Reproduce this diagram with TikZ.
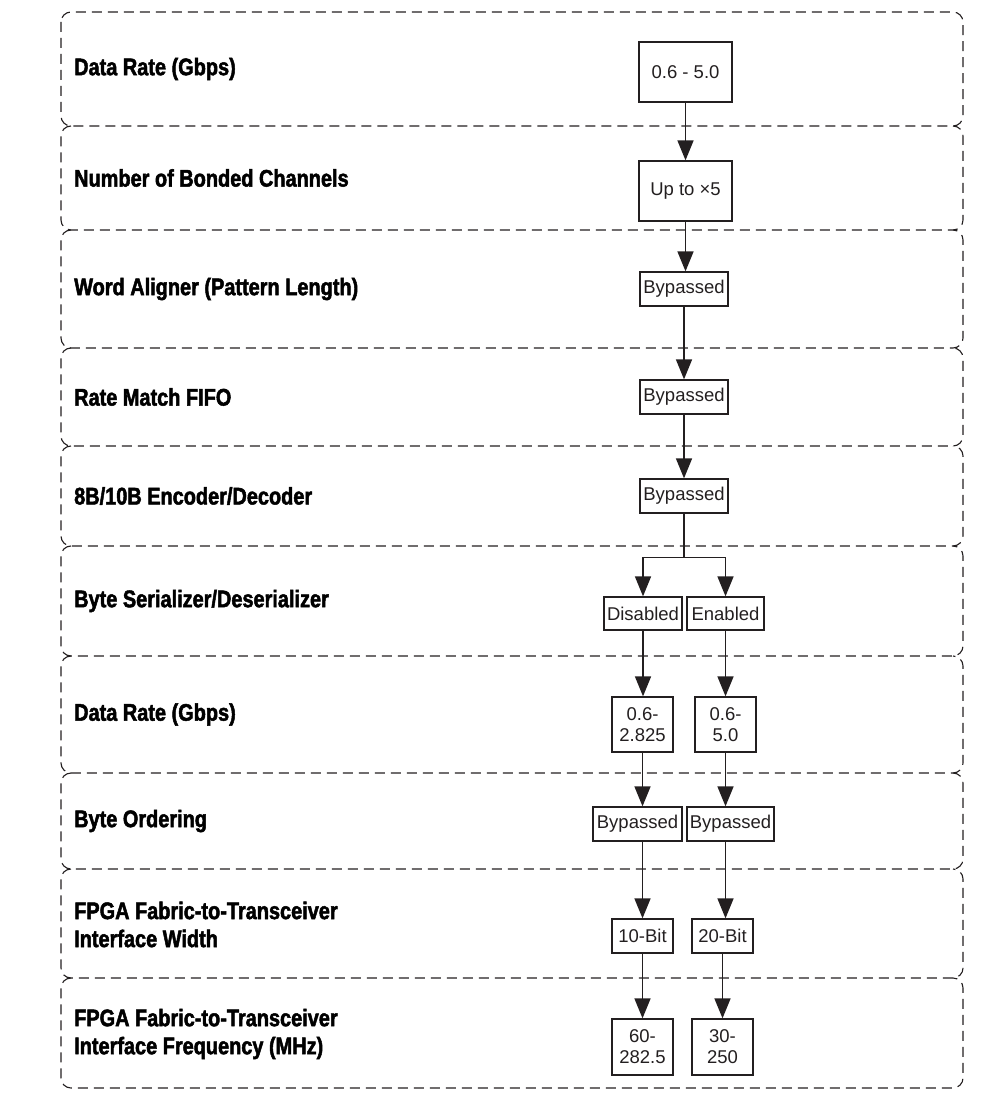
\documentclass[tikz,border=0pt]{standalone}
\usepackage{fontspec}
\setmainfont{Liberation Sans}
\newfontfamily\headfont{Liberation Sans}[FakeStretch=0.83,FakeBold=2]
\usetikzlibrary{arrows.meta}
\definecolor{ink}{HTML}{231F20}
\begin{document}
\begin{tikzpicture}[x=1pt,y=-1pt,
  band/.style={draw=ink, line width=1.1pt, dash pattern=on 10pt off 6pt, rounded corners=10pt},
  lbl/.style={anchor=west, inner sep=0pt, font=\headfont\bfseries\fontsize{24}{28}\selectfont, text=black, align=left},
  box/.style={draw=ink, line width=1.3pt, inner sep=0pt, font=\fontsize{18.5}{21}\selectfont, text=ink, align=center},
  arr/.style={draw=ink, line width=1.6pt, -{Triangle[length=20pt,width=16pt]}},
  wire/.style={draw=ink, line width=1.6pt}]
\useasboundingbox (0,0) rectangle (1001,1099);

% dashed stage bands
\draw[band] (61,12) rectangle (963,126);
\foreach \t/\b in {126/230, 230/348, 348/446, 446/546, 546/656, 656/773, 773/869, 869/978, 978/1088}
  \draw[band] (71,\t) -- (61,\t) -- (61,\b) -- (963,\b) -- (963,\t) -- (953,\t);

% stage labels
\node[lbl] (l1) at (74,69) {Data Rate (Gbps)};
\node[lbl] (l2) at (74,178) {Number of Bonded Channels};
\node[lbl] (l3) at (74,289) {Word Aligner (Pattern Length)};
\node[lbl] (l4) at (74,397) {Rate Match FIFO};
\node[lbl] (l5) at (74,496) {8B/10B Encoder/Decoder};
\node[lbl] (l6) at (74,601) {Byte Serializer/Deserializer};
\node[lbl] (l7) at (74,714.5) {Data Rate (Gbps)};
\node[lbl] (l8) at (74,821) {Byte Ordering};
\node[lbl] (l9) at (74,924.5) {FPGA Fabric-to-Transceiver\\Interface Width};
\node[lbl] (l10) at (74,1034) {FPGA Fabric-to-Transceiver\\Interface Frequency (MHz)};

% option boxes
\node[box, minimum width=93, minimum height=60] (rate) at (685.5,72) {0.6 - 5.0};
\node[box, minimum width=93, minimum height=60] (bond) at (685.5,191) {Up to ×5};
\node[box, minimum width=88, minimum height=34] (wa) at (684,289) {Bypassed};
\node[box, minimum width=88, minimum height=34] (rm) at (684,397) {Bypassed};
\node[box, minimum width=88, minimum height=34] (enc) at (684,496) {Bypassed};
\node[box, minimum width=78, minimum height=33] (dis) at (643,613.5) {Disabled};
\node[box, minimum width=77, minimum height=33] (en) at (725.5,613.5) {Enabled};
\node[box, minimum width=61, minimum height=55] (rl) at (642.5,724.5) {0.6-\\2.825};
\node[box, minimum width=61, minimum height=55] (rr) at (725.5,724.5) {0.6-\\5.0};
\node[box, minimum width=89, minimum height=34] (ol) at (637.5,824) {Bypassed};
\node[box, minimum width=87, minimum height=34] (or) at (730.5,824) {Bypassed};
\node[box, minimum width=61, minimum height=34] (wl) at (642.5,936) {10-Bit};
\node[box, minimum width=61, minimum height=34] (wr) at (722.5,936) {20-Bit};
\node[box, minimum width=61, minimum height=56] (fl) at (642.5,1047) {60-\\282.5};
\node[box, minimum width=61, minimum height=56] (fr) at (722.5,1047) {30-\\250};

% connectors
\draw[arr] (rate.south) -- (bond.north);
\draw[arr] (bond.south) -- (bond.south |- wa.north);
\draw[arr] (wa.south) -- (rm.north);
\draw[arr] (rm.south) -- (enc.north);
\path (enc.south) ++(0,44) coordinate (split);
\draw[wire] (enc.south) -- (split);
\draw[arr] (split) -| (dis.north);
\draw[arr] (split) -| (en.north);
\draw[arr] (dis.south) -- (dis.south |- rl.north);
\draw[arr] (en.south) -- (en.south |- rr.north);
\draw[arr] (rl.south) -- (rl.south |- ol.north);
\draw[arr] (rr.south) -- (rr.south |- or.north);
\draw[arr] (rl.south |- ol.south) -- (rl.south |- wl.north);
\draw[arr] (rr.south |- or.south) -- (rr.south |- wr.north);
\draw[arr] (wl.south) -- (fl.north);
\draw[arr] (wr.south) -- (fr.north);
\end{tikzpicture}
\end{document}
